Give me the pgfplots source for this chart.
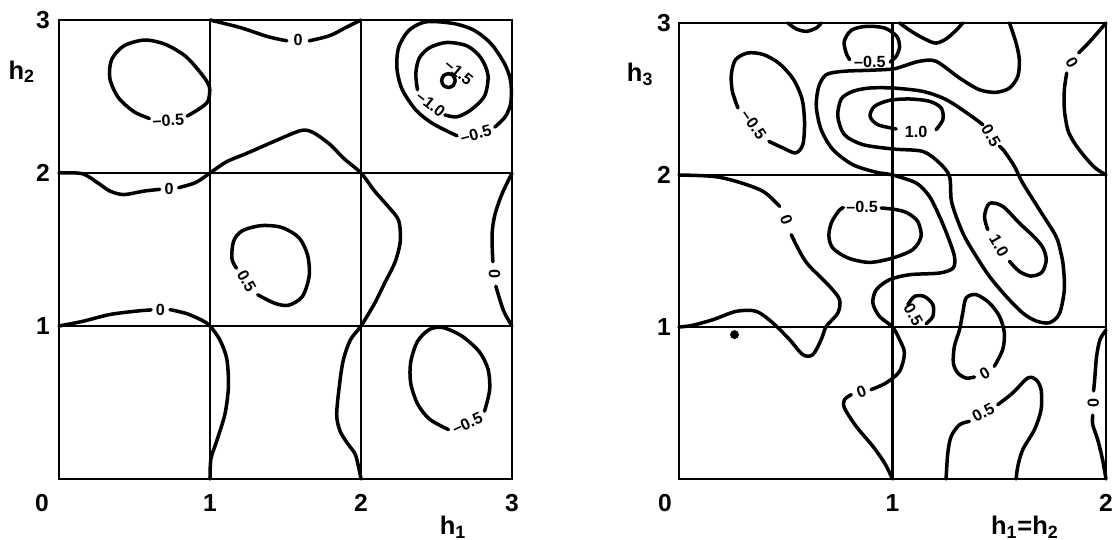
\documentclass[border=0pt]{standalone}
\usepackage{fontspec}
\setmainfont{Liberation Sans}
\usepackage{pgfplots}
\pgfplotsset{compat=1.18}

\newcommand{\tl}{\fontsize{14}{16}\selectfont\bfseries}
\newcommand{\al}{\fontsize{14.5}{16}\selectfont\bfseries}
\newcommand{\cl}{\fontsize{9.2}{10}\selectfont\bfseries}

\pgfplotsset{
  cont/.style={black, line width=2pt, smooth, mark=none, line cap=round},
  panel/.style={
    scale only axis, clip=false,
    axis line style={line width=1.3pt},
    grid=major, grid style={black, line width=1.3pt},
    major tick length=0pt,
    ymin=0, ymax=3, ytick={1,2,3}, yticklabels={1,2,3},
    xticklabel style={anchor=center, yshift=-0.48cm, font=\tl},
    yticklabel style={anchor=center, xshift=-0.32cm, font=\tl},
    xlabel style={font=\al, anchor=center},
    ylabel style={font=\al, anchor=center, rotate=-90},
  },
}
\tikzset{lab/.style={font=\cl, inner sep=0pt}}

\begin{document}
\begin{tikzpicture}
\useasboundingbox (0,0) rectangle (22.24,10.8);

% ---------------- left panel: h1 / h2 ----------------
\begin{axis}[panel,
    at={(1.18cm,1.22cm)}, anchor=south west,
    width=9.06cm, height=9.18cm,
    xmin=0, xmax=3, xtick={1,2,3}, xticklabels={1,2,3},
    xlabel={h\textsubscript{1}}, ylabel={h\textsubscript{2}},
    xlabel style={at={(axis description cs:0.870,-0.105)}},
    ylabel style={at={(axis description cs:-0.082,0.887)}},
]
% -0.5 top left
\addplot[cont] coordinates {
  (0.849,2.372) (0.930,2.420) (0.986,2.469) (0.997,2.559) (0.951,2.638)
  (0.838,2.763) (0.701,2.842) (0.565,2.869) (0.428,2.830) (0.348,2.740)
  (0.337,2.616) (0.394,2.492) (0.496,2.401) (0.599,2.356)};
\node[lab, rotate=3] at (axis cs:0.724,2.345) {--0.5};
% 0 along top
\addplot[cont] coordinates {(1,3) (1.202,2.950) (1.384,2.891) (1.509,2.864)};
\addplot[cont] coordinates {(1.657,2.864) (1.794,2.898) (1.908,2.955) (2,3)};
\node[lab] at (axis cs:1.583,2.869) {0};
% big 0 contour
\addplot[cont] coordinates {
  (0,2) (0.155,1.995) (0.269,1.927) (0.337,1.882) (0.428,1.859)
  (0.565,1.882) (0.667,1.893)};
\addplot[cont] coordinates {
  (0.792,1.904) (0.906,1.938) (1,2) (1.111,2.074) (1.247,2.130)
  (1.430,2.209) (1.600,2.277) (1.680,2.266) (1.794,2.187) (1.885,2.096)
  (2,2) (2.090,1.882) (2.181,1.780) (2.249,1.690) (2.260,1.554)
  (2.226,1.419) (2.158,1.283) (2.090,1.148) (2,1) (1.930,0.910)
  (1.885,0.786) (1.862,0.651) (1.839,0.425) (1.862,0.312) (1.919,0.221)
  (1.965,0.154) (2,0)};
\node[lab] at (axis cs:0.729,1.897) {0};
% minimum top right
\addplot[cont] coordinates {
  (2.886,2.300) (2.955,2.367) (2.992,2.458) (2.992,2.593) (2.955,2.706)
  (2.864,2.842) (2.750,2.932) (2.613,2.977) (2.431,2.988) (2.317,2.932)
  (2.249,2.819) (2.238,2.684) (2.272,2.548) (2.363,2.412) (2.477,2.322)
  (2.636,2.243)};
\node[lab, rotate=15] at (axis cs:2.761,2.255) {--0.5};
\addplot[cont] coordinates {
  (2.556,2.379) (2.636,2.367) (2.727,2.412) (2.818,2.503) (2.841,2.638)
  (2.795,2.751) (2.704,2.830) (2.568,2.853) (2.454,2.819) (2.386,2.751)
  (2.363,2.650) (2.374,2.544)};
\node[lab, rotate=-38] at (axis cs:2.462,2.452) {--1.0};
\addplot[cont] coordinates {
  (2.624,2.604) (2.611,2.636) (2.579,2.649) (2.547,2.636) (2.534,2.604)
  (2.547,2.572) (2.579,2.559) (2.611,2.572) (2.624,2.604)};
\node[lab, rotate=-40] at (axis cs:2.648,2.658) {--1.5};
% 0.5 centre
\addplot[cont] coordinates {
  (1.316,1.204) (1.430,1.148) (1.521,1.136) (1.612,1.193) (1.657,1.328)
  (1.646,1.464) (1.589,1.577) (1.475,1.644) (1.338,1.656) (1.213,1.622)
  (1.156,1.554) (1.145,1.441) (1.175,1.378)};
\node[lab, rotate=-60] at (axis cs:1.243,1.294) {0.5};
% 0 along h2 = 1
\addplot[cont] coordinates {(0,1) (0.155,1.030) (0.337,1.075) (0.519,1.098) (0.610,1.105)};
\addplot[cont] coordinates {
  (0.735,1.107) (0.849,1.080) (0.951,1.035) (1,1) (1.065,0.910)
  (1.111,0.786) (1.122,0.605) (1.099,0.425) (1.043,0.244) (1.006,0.131) (1,0)};
\node[lab] at (axis cs:0.672,1.104) {0};
% 0 at right edge
\addplot[cont] coordinates {(3,2) (2.932,1.859) (2.886,1.724) (2.868,1.599) (2.873,1.420)};
\addplot[cont] coordinates {(2.893,1.260) (2.943,1.102) (3,1)};
\node[lab, rotate=90] at (axis cs:2.884,1.340) {0};
% -0.5 bottom right
\addplot[cont] coordinates {
  (2.818,0.443) (2.852,0.583) (2.841,0.718) (2.784,0.831) (2.670,0.933)
  (2.545,0.989) (2.454,0.978) (2.374,0.899) (2.329,0.763) (2.329,0.628)
  (2.374,0.492) (2.454,0.391) (2.579,0.323)};
\node[lab, rotate=25] at (axis cs:2.704,0.365) {--0.5};
\node[font=\tl, xshift=-0.34cm, yshift=-0.48cm] at (axis cs:0,0) {0};
\end{axis}

% ---------------- right panel: h1=h2 / h3 ----------------
\begin{axis}[panel,
    at={(13.58cm,1.22cm)}, anchor=south west,
    width=8.54cm, height=9.12cm,
    xmin=0, xmax=2, xtick={1,2}, xticklabels={1,2},
    yticklabel style={xshift=0.02cm},
    xlabel={h\textsubscript{1}=h\textsubscript{2}}, ylabel={h\textsubscript{3}},
    xlabel style={at={(axis description cs:0.810,-0.105)}},
    ylabel style={at={(axis description cs:-0.091,0.888)}},
]
% small bumps on the top edge
\addplot[cont] coordinates {(0.510,3) (0.549,2.961) (0.597,2.945) (0.643,2.967) (0.666,3)};
\addplot[cont] coordinates {(1.033,3) (1.095,2.939) (1.158,2.890) (1.204,2.868) (1.251,2.895) (1.298,2.952) (1.329,3)};
% -0.5 top left
\addplot[cont] coordinates {
  (0.421,2.221) (0.487,2.178) (0.546,2.145) (0.580,2.200) (0.588,2.342)
  (0.577,2.496) (0.537,2.627) (0.471,2.732) (0.396,2.792) (0.323,2.803)
  (0.265,2.759) (0.245,2.660) (0.250,2.550) (0.276,2.441)};
\node[lab, rotate=-55] at (axis cs:0.350,2.331) {--0.5};
% -0.5 small, top centre
\addplot[cont] coordinates {
  (0.989,2.743) (1.017,2.781) (1.033,2.842) (1.020,2.912) (0.963,2.967)
  (0.877,2.978) (0.807,2.952) (0.774,2.879) (0.783,2.803) (0.799,2.759)};
\node[lab] at (axis cs:0.894,2.741) {--0.5};
% big 0 contour
\addplot[cont] coordinates {
  (1.548,3) (1.579,2.868) (1.594,2.759) (1.587,2.649) (1.548,2.572)
  (1.485,2.544) (1.407,2.561) (1.314,2.638) (1.204,2.748) (1.126,2.748)
  (1.048,2.715) (1,2.697) (0.892,2.689) (0.768,2.682) (0.690,2.660)
  (0.655,2.583) (0.643,2.452) (0.666,2.298) (0.721,2.167) (0.814,2.068)
  (0.924,2.018) (1,2) (1.111,1.947) (1.173,1.859) (1.220,1.728)
  (1.259,1.596) (1.290,1.465) (1.284,1.388) (1.220,1.355) (1.080,1.344)
  (0.986,1.311) (0.924,1.245) (0.908,1.158) (0.939,1.070) (1,1)
  (1.033,0.917) (1.056,0.829) (1.033,0.708) (0.970,0.632) (0.900,0.588)};
\addplot[cont] coordinates {
  (0.807,0.555) (0.775,0.522) (0.775,0.467) (0.830,0.346) (0.908,0.215)
  (0.963,0.105) (1,0)};
\node[lab, rotate=20] at (axis cs:0.855,0.572) {0};
% 0.5 loop round both maxima
\addplot[cont] coordinates {
  (1.423,2.331) (1.360,2.397) (1.251,2.496) (1.142,2.550) (1.002,2.572)
  (0.892,2.572) (0.814,2.550) (0.760,2.500) (0.744,2.386) (0.775,2.265)
  (0.861,2.200) (1.002,2.171) (1.142,2.155) (1.220,2.079) (1.267,1.991)
  (1.275,1.838) (1.298,1.728) (1.337,1.596) (1.392,1.465) (1.454,1.333)
  (1.532,1.202) (1.610,1.092) (1.672,1.040) (1.735,1.028) (1.782,1.088)
  (1.805,1.246) (1.800,1.399) (1.790,1.480) (1.766,1.596) (1.688,1.772)
  (1.610,1.947) (1.571,2.057) (1.524,2.156) (1.501,2.189)};
\node[lab, rotate=-60] at (axis cs:1.462,2.258) {0.5};
% 1.0 upper
\addplot[cont] coordinates {
  (1.204,2.298) (1.236,2.364) (1.228,2.441) (1.173,2.485) (1.080,2.500)
  (0.986,2.491) (0.916,2.452) (0.895,2.386) (0.931,2.331) (1.017,2.303)};
\node[lab] at (axis cs:1.111,2.285) {1.0};
% 1.0 lower
\addplot[cont] coordinates {
  (1.548,1.432) (1.594,1.366) (1.648,1.335) (1.700,1.360) (1.720,1.440)
  (1.705,1.520) (1.665,1.590) (1.594,1.684) (1.516,1.794) (1.454,1.813)
  (1.431,1.728) (1.446,1.640)};
\node[lab, rotate=-60] at (axis cs:1.499,1.535) {1.0};
% -0.5 centre
\addplot[cont] coordinates {
  (0.947,1.783) (1.017,1.772) (1.070,1.750) (1.118,1.695) (1.134,1.596)
  (1.095,1.509) (1.001,1.454) (0.892,1.425) (0.790,1.455) (0.720,1.520)
  (0.702,1.600) (0.715,1.690) (0.752,1.770) (0.770,1.785)};
\node[lab] at (axis cs:0.858,1.789) {--0.5};
% 0 on the left
\addplot[cont] coordinates {(0,2) (0.159,1.991) (0.268,1.958) (0.393,1.893) (0.471,1.794)};
\addplot[cont] coordinates {
  (0.526,1.607) (0.549,1.540) (0.580,1.460) (0.612,1.399) (0.705,1.268)
  (0.752,1.180) (0.744,1.092) (0.690,1.004) (0.666,0.917) (0.627,0.818)
  (0.580,0.818) (0.518,0.917) (0.440,1.026) (0.362,1.103) (0.268,1.103)
  (0.159,1.048) (0.060,1.010) (0,1)};
\node[lab, rotate=-70] at (axis cs:0.503,1.702) {0};
% 0.5 small
\addplot[cont] coordinates {
  (1.072,1.147) (1.103,1.201) (1.149,1.201) (1.189,1.147) (1.189,1.070) (1.158,1.022)};
\node[lab, rotate=-60] at (axis cs:1.098,1.082) {0.5};
% 0 loop lower middle
\addplot[cont] coordinates {
  (1.477,0.741) (1.516,0.851) (1.524,0.961) (1.501,1.070) (1.454,1.158)
  (1.392,1.213) (1.345,1.191) (1.329,1.092) (1.314,0.982) (1.290,0.873)
  (1.285,0.763) (1.306,0.697) (1.345,0.664) (1.384,0.671)};
\node[lab, rotate=30] at (axis cs:1.432,0.697) {0};
% 0.5 bottom
\addplot[cont] coordinates {(1.251,0) (1.259,0.171) (1.275,0.281) (1.314,0.357) (1.360,0.379)};
\addplot[cont] coordinates {
  (1.493,0.489) (1.563,0.566) (1.633,0.664) (1.672,0.654) (1.696,0.588)
  (1.696,0.456) (1.665,0.325) (1.610,0.193) (1.587,0.083) (1.579,0)};
\node[lab, rotate=28] at (axis cs:1.425,0.436) {0.5};
% 0 at right edge, bottom
\addplot[cont] coordinates {(2,0.980) (1.972,0.917) (1.956,0.807) (1.947,0.654) (1.942,0.580)};
\addplot[cont] coordinates {(1.938,0.420) (1.938,0.357) (1.961,0.259) (1.984,0.127) (2,0)};
\node[lab, rotate=90] at (axis cs:1.940,0.500) {0};
% 0 at right edge, top
\addplot[cont] coordinates {(2,3) (1.925,2.879) (1.872,2.803)};
\addplot[cont] coordinates {
  (1.816,2.671) (1.805,2.561) (1.805,2.430) (1.821,2.298) (1.852,2.211)
  (1.899,2.123) (1.950,2.046) (2,2)};
\node[lab, rotate=-60] at (axis cs:1.840,2.738) {0};
% dot
\addplot[only marks, mark=*, mark size=2.3pt, black] coordinates {(0.26,0.95)};
\node[font=\tl, xshift=-0.28cm, yshift=-0.48cm] at (axis cs:0,0) {0};
\end{axis}
\end{tikzpicture}
\end{document}
